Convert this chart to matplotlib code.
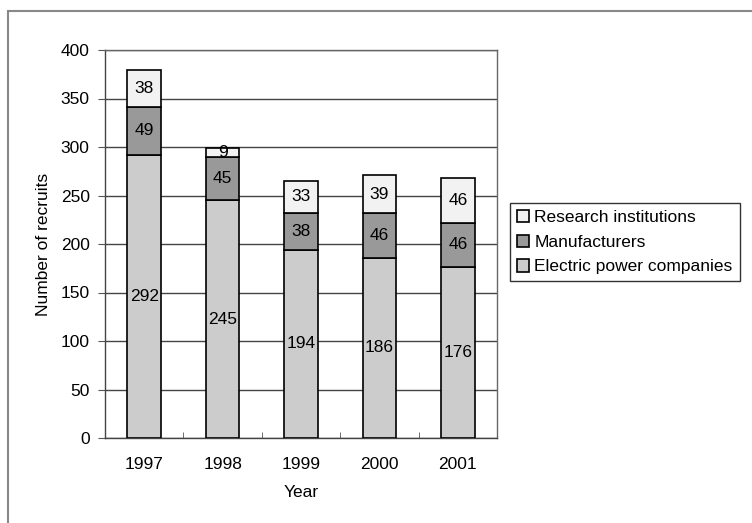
import matplotlib
matplotlib.use("Agg")
import matplotlib.pyplot as plt
from matplotlib.patches import Rectangle
import numpy as np

plt.rcParams['font.family'] = ['Liberation Sans', 'DejaVu Sans']

years = ["1997", "1998", "1999", "2000", "2001"]
electric = [292, 245, 194, 186, 176]
manufacturers = [49, 45, 38, 46, 46]
research = [38, 9, 33, 39, 46]
series_names = ["Electric power companies", "Manufacturers", "Research institutions"]
colors = ["#cccccc", "#999999", "#f2f2f2"]

FS = 12.5

fig = plt.figure(figsize=(7.52, 5.23), dpi=100)
ax = fig.add_axes([105/752, 1 - 438/523, 392/752, 388/523])

x = np.arange(len(years))
width = 0.43
bottoms = np.zeros(len(years))
handles = []
for vals, name, c in zip([electric, manufacturers, research], series_names, colors):
    vals = np.array(vals)
    bars = ax.bar(x, vals, width, bottom=bottoms, color=c, edgecolor="black",
                  linewidth=1.2, label=name, zorder=3)
    handles.append(bars)
    for xi, b, v in zip(x, bottoms, vals):
        ax.text(xi, b + v / 2, str(v), ha="center", va="center", fontsize=FS, zorder=4)
    bottoms += vals

ax.set_xlim(-0.5, len(years) - 0.5)
ax.set_ylim(0, 400)
ax.set_yticks(np.arange(0, 401, 50))
ax.set_xticks(x)
ax.set_xticklabels(years)
ax.set_xticks(np.arange(0.5, len(years) - 1, 1), minor=True)
ax.tick_params(axis="x", which="major", length=0, pad=14, labelsize=FS)
ax.tick_params(axis="x", which="minor", direction="in", length=4, color="#555555")
ax.tick_params(axis="y", length=5, labelsize=FS, color="#555555", pad=6)
ax.yaxis.grid(True, color="#444444", linewidth=1.0, zorder=0)
for s in ax.spines.values():
    s.set_color("#666666")
    s.set_linewidth(1.0)
ax.spines["left"].set_color("#444444")
ax.spines["bottom"].set_color("#444444")

ax.set_xlabel("Year", fontsize=FS, labelpad=9)
ax.set_ylabel("Number of recruits", fontsize=FS, labelpad=7)

leg = ax.legend(handles[::-1], series_names[::-1], loc="upper left",
                bbox_to_anchor=(510/752, 1 - 203/523), bbox_transform=fig.transFigure,
                fontsize=FS, frameon=True, fancybox=False, edgecolor="black",
                handlelength=0.7, handleheight=0.7, handletextpad=0.3,
                borderpad=0.4, labelspacing=0.55, borderaxespad=0)
leg.get_frame().set_linewidth(1.0)

fig.patches.append(Rectangle((8/752, -0.1), 1.5, 1 - 11/523 + 0.1,
                             transform=fig.transFigure, fill=False,
                             edgecolor="#888888", linewidth=1.5))

fig.savefig("out.png", dpi=100)
